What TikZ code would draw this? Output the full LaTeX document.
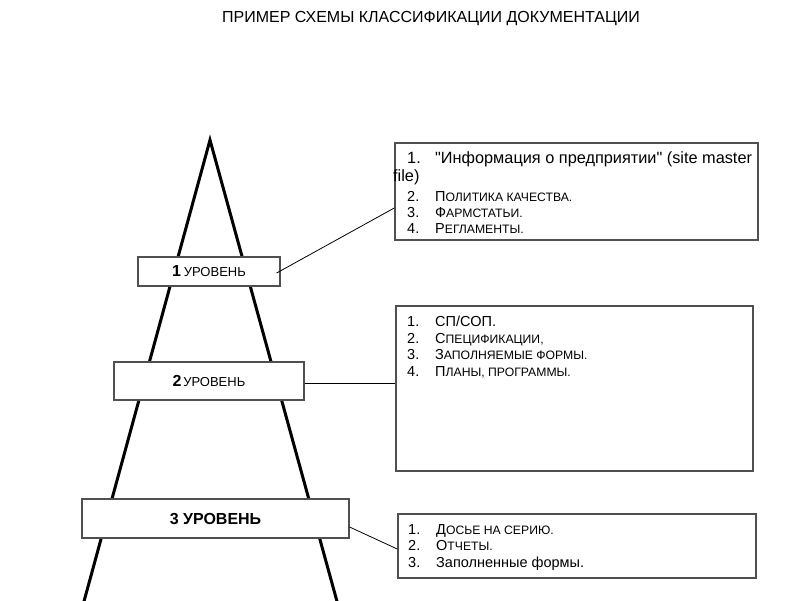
\documentclass[tikz,border=0pt]{standalone}
\usepackage{fontspec}
\setmainfont{Liberation Sans}[Ligatures=TeXOff]
\usetikzlibrary{calc}
\definecolor{boxgray}{HTML}{505050}

% first letter full size, the rest in small capitals
\newcommand\capsrest[2]{#1{\fontsize{12.2}{14}\selectfont #2}}
\newcommand\numitem[2]{\makebox[28pt][l]{#1}#2}

\begin{document}
\begin{tikzpicture}[x=1pt,y=-1pt,
  lvlbox/.style={draw=boxgray,line width=1.2pt,fill=white,inner sep=0pt},
  listbox/.style={draw=boxgray,line width=1.5pt,fill=white,inner sep=0pt},
  item/.style={anchor=base west,inner sep=0pt,font=\fontsize{14.5}{17}\selectfont},
  link/.style={draw=black,line width=0.8pt}]
  \useasboundingbox (0,0) rectangle (800,600);

  \node[font=\fontsize{16}{18}\selectfont] (title) at (431,19) {ПРИМЕР СХЕМЫ КЛАССИФИКАЦИИ ДОКУМЕНТАЦИИ};

  % pyramid
  \draw[line width=3pt,miter limit=20] (83,605) -- (210,140) -- (338,605);

  % levels
  \node[lvlbox,minimum width=142pt,minimum height=29pt] (lvl1) at (209,271.5)
    {{\bfseries\fontsize{16}{18}\selectfont 1} \fontsize{13}{15}\selectfont УРОВЕНЬ};
  \node[lvlbox,minimum width=190pt,minimum height=38pt] (lvl2) at (209,381)
    {{\bfseries\fontsize{16}{18}\selectfont 2}\,\fontsize{13}{15}\selectfont УРОВЕНЬ};
  \node[lvlbox,minimum width=267pt,minimum height=39pt] (lvl3) at (215.5,518.5)
    {\raisebox{-3.5pt}{\bfseries\fontsize{16}{18}\selectfont 3 УРОВЕНЬ}};

  % lists
  \node[listbox,minimum width=363pt,minimum height=97pt] (listA) at (576.5,191.5) {};
  \node[listbox,minimum width=357pt,minimum height=165pt] (listB) at (574.5,388.5) {};
  \node[listbox,minimum width=358pt,minimum height=64pt] (listC) at (577,546) {};

  \node[item,font=\fontsize{16.3}{19}\selectfont] (a1) at (407,163) {\numitem{1.}{"Информация о предприятии" (site master}};
  \node[item,font=\fontsize{16.3}{19}\selectfont] (a1b) at (393,181) {file)};
  \node[item] (a2) at (407,201) {\numitem{2.}{\capsrest{П}{ОЛИТИКА КАЧЕСТВА.}}};
  \node[item] (a3) at (407,217) {\numitem{3.}{\capsrest{Ф}{АРМСТАТЬИ.}}};
  \node[item] (a4) at (407,233) {\numitem{4.}{\capsrest{Р}{ЕГЛАМЕНТЫ.}}};

  \node[item] (b1) at (407,326) {\numitem{1.}{СП/СОП.}};
  \node[item] (b2) at (407,343) {\numitem{2.}{\capsrest{С}{ПЕЦИФИКАЦИИ,}}};
  \node[item] (b3) at (407,359.5) {\numitem{3.}{\capsrest{З}{АПОЛНЯЕМЫЕ ФОРМЫ.}}};
  \node[item] (b4) at (407,376) {\numitem{4.}{\capsrest{П}{ЛАНЫ, ПРОГРАММЫ.}}};

  \node[item] (c1) at (408,534) {\numitem{1.}{\capsrest{Д}{ОСЬЕ НА СЕРИЮ.}}};
  \node[item] (c2) at (408,550.5) {\numitem{2.}{\capsrest{О}{ТЧЕТЫ.}}};
  \node[item] (c3) at (408,567) {\numitem{3.}{Заполненные формы.}};

  % connectors
  \draw[link] ([xshift=-4pt,yshift=-1.5pt]lvl1.east) -- ([yshift=-16.5pt]listA.west);
  \draw[link] ([yshift=-2pt]lvl2.east) -- ([yshift=-2pt]lvl2.east -| listB.west);
  \draw[link] ([yshift=-8.5pt]lvl3.east) -- ([yshift=-3pt]listC.west);
\end{tikzpicture}
\end{document}
